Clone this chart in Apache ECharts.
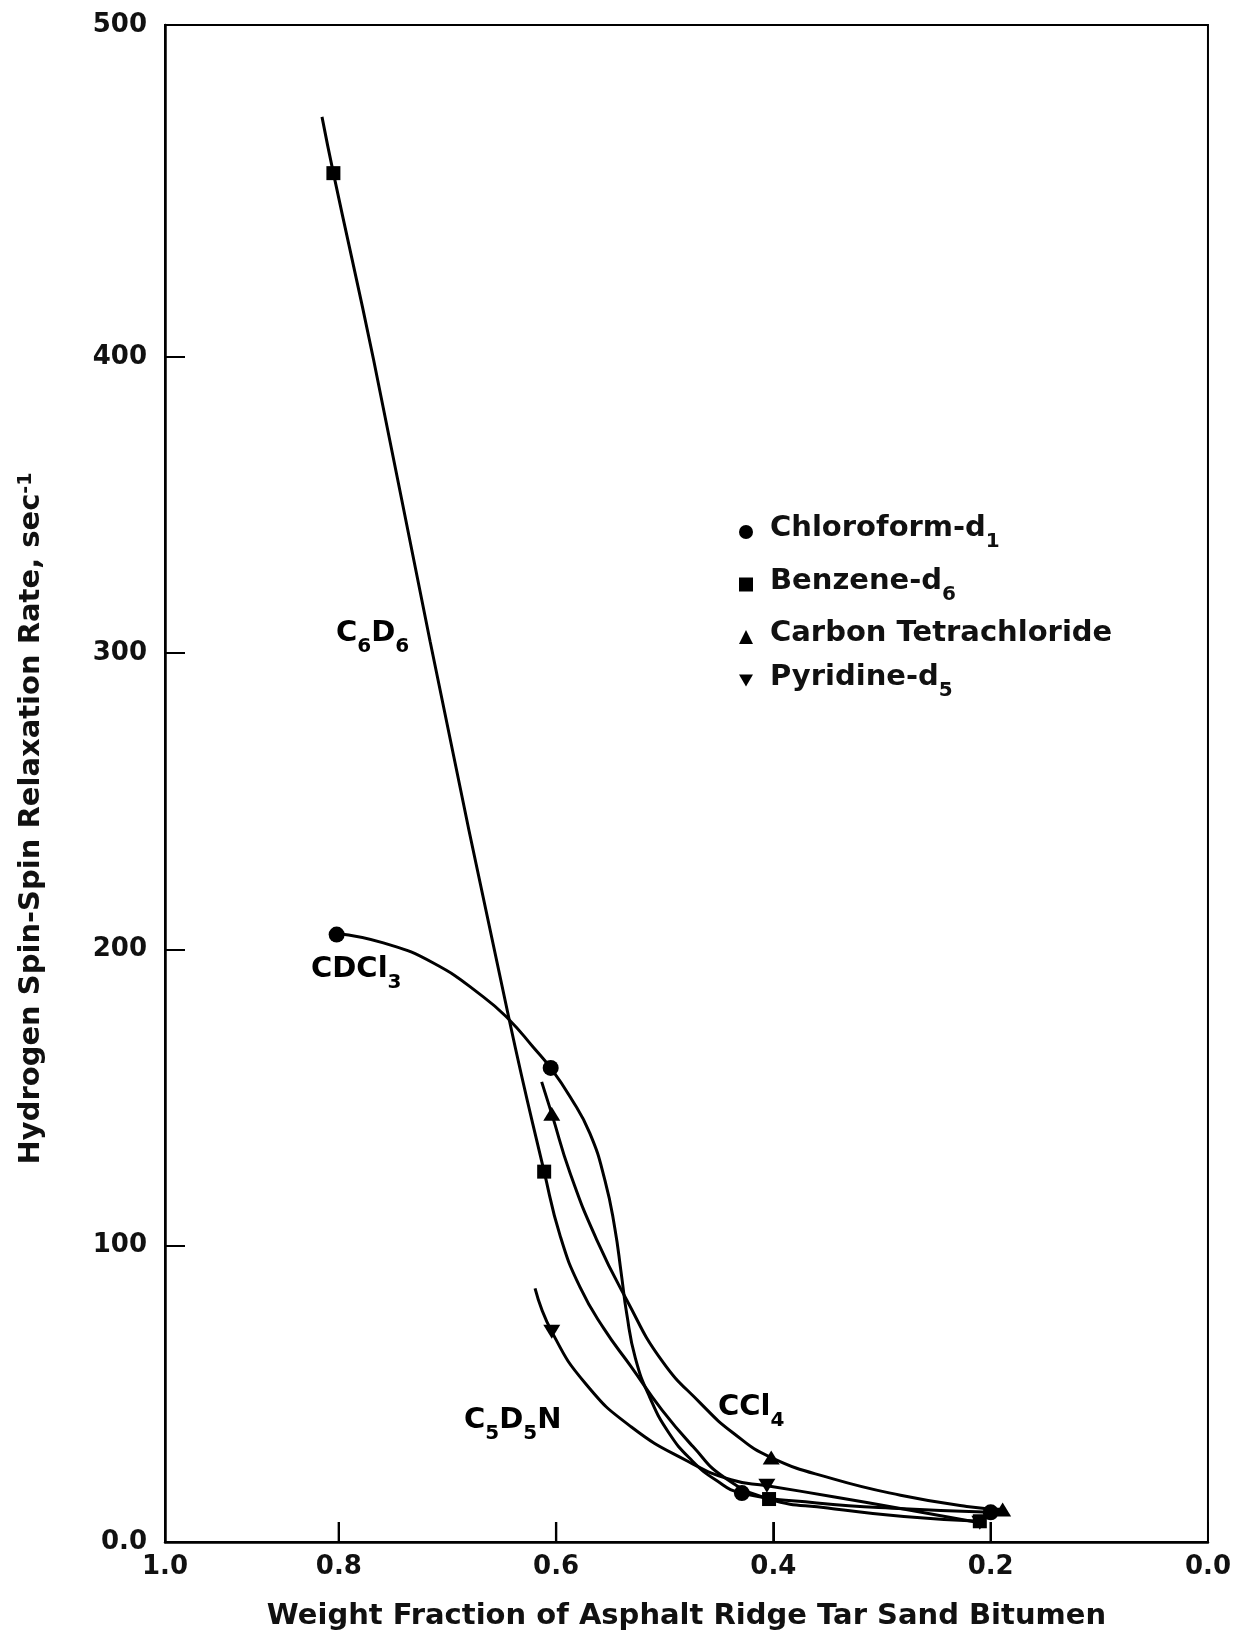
<!DOCTYPE html>
<html>
<head>
<meta charset="utf-8">
<script src="https://cdn.jsdelivr.net/npm/echarts@6/dist/echarts.min.js"></script>
<style>
html,body{margin:0;padding:0;background:#fff;}
#chart{width:1234px;height:1636px;}
</style>
</head>
<body>
<div id="chart"></div>
<script>
// ---------------- data ----------------
const SERIES_NAMES = ['Chloroform-d1', 'Benzene-d6', 'Carbon Tetrachloride', 'Pyridine-d5'];
const LEGEND_LABELS = ['{m|Chloroform-d}{s|1}', '{m|Benzene-d}{s|6}', '{m|Carbon Tetrachloride}', '{m|Pyridine-d}{s|5}'];

// measured points [weight fraction, relaxation rate]
const chloroformPoints = [[0.802, 205], [0.605, 160], [0.429, 16.5], [0.200, 10]];
const benzenePoints    = [[0.805, 462], [0.611, 125], [0.404, 14.5], [0.210, 7]];
const ccl4Points       = [[0.604, 144.5], [0.402, 28.5], [0.189, 11]];
const pyridinePoints   = [[0.604, 71], [0.406, 19], [0.210, 6.5]];

// hand-drawn curves
const chloroformCurve = [[0.802, 205.4], [0.759, 202.2], [0.713, 195.4], [0.667, 184], [0.643, 176.2], [0.621, 167],
  [0.605, 160], [0.587, 150.2], [0.569, 138], [0.555, 122], [0.546, 106], [0.540, 90.5], [0.535, 77],
  [0.527, 62], [0.514, 49], [0.496, 36.7], [0.475, 27.5], [0.453, 20.9], [0.429, 16.5], [0.36, 13.2],
  [0.28, 11.2], [0.200, 10]];
const benzeneCurve = [[0.8155, 481], [0.805, 462], [0.768, 399], [0.716, 304], [0.643, 176], [0.611, 125],
  [0.596, 103], [0.578, 86], [0.556, 72], [0.531, 59.2], [0.5025, 44.5], [0.474, 32.2], [0.446, 22], [0.404, 14.5],
  [0.35, 11.5], [0.28, 8.6], [0.210, 7]];
const ccl4Curve = [[0.6133, 155.3], [0.604, 144.5], [0.587, 124.4], [0.5626, 102], [0.535, 81.7], [0.503, 61.4],
  [0.467, 46.8], [0.437, 36.8], [0.402, 28.5], [0.345, 21.3], [0.283, 15.8], [0.222, 12], [0.189, 11]];
const pyridineCurve = [[0.6194, 85.6], [0.604, 71], [0.573, 53.5], [0.531, 38.9], [0.478, 27.1], [0.439, 21],
  [0.406, 19], [0.345, 15.3], [0.283, 11.3], [0.210, 6.5]];

// axis ticks / labels
const X_TICK_STEP = 0.2;
const X_TICKS = [0.2, 0.4, 0.6, 0.8];
const X_LEFT_EDGE = 0.96;           // left frame of the drawing (labelled "1.0")
const Y_TICKS = [100, 200, 300, 400];
const Y_TOP_EDGE = 512;             // top frame of the drawing (labelled "500")
const Y_LABEL_VALUES = [0, 100, 200, 300, 400, Y_TOP_EDGE];

const X_TITLE = 'Weight Fraction of Asphalt Ridge Tar Sand Bitumen';
const Y_TITLE = '{m|Hydrogen Spin-Spin Relaxation Rate, sec}{p|-1}';

// ---------------- chart ----------------
const FONT = 'DejaVu Sans';
const INK = '#111';
const TICK_LEN_PX = 20;
const rich = {
  m: {fontFamily: FONT, fontWeight: 'bold', fontSize: 29, lineHeight: 36, verticalAlign: 'top', color: INK},
  s: {fontFamily: FONT, fontWeight: 'bold', fontSize: 20, lineHeight: 18, padding: [18, 0, 0, 0], verticalAlign: 'top', color: INK},
  p: {fontFamily: FONT, fontWeight: 'bold', fontSize: 19, lineHeight: 18, verticalAlign: 'top', color: INK}
};

const chart = echarts.init(document.getElementById('chart'), null, {renderer: 'canvas'});

const curves = [chloroformCurve, benzeneCurve, ccl4Curve, pyridineCurve];
const points = [chloroformPoints, benzenePoints, ccl4Points, pyridinePoints];
const symbols = ['circle', 'rect', 'triangle', 'triangle'];
const symbolSizes = [16, 14, [17, 14], [17, 14]];
const symbolRotates = [0, 0, 0, 180];
const legendIcons = ['circle', 'rect', 'triangle', 'path://M0,0L10,0L5,8.66Z'];

const series = [];
curves.forEach((c, i) => {
  series.push({
    name: SERIES_NAMES[i] + ' curve',
    type: 'line',
    data: c,
    smooth: 0.5,
    showSymbol: false,
    lineStyle: {color: '#000', width: 3},
    z: 2,
    silent: true
  });
});
points.forEach((p, i) => {
  series.push({
    name: SERIES_NAMES[i],
    type: 'scatter',
    data: p,
    symbol: symbols[i],
    symbolSize: symbolSizes[i],
    symbolRotate: symbolRotates[i],
    itemStyle: {color: '#000', opacity: 1},
    z: 5
  });
});

const annotations = [
  {type: 'text', x: 336, y: 637, z: 50, style: {text: '{m|C}{s|6}{m|D}{s|6}', rich: rich, align: 'left', verticalAlign: 'middle'}},
  {type: 'text', x: 311, y: 973, z: 50, style: {text: '{m|CDCl}{s|3}', rich: rich, align: 'left', verticalAlign: 'middle'}},
  {type: 'text', x: 464, y: 1424, z: 50, style: {text: '{m|C}{s|5}{m|D}{s|5}{m|N}', rich: rich, align: 'left', verticalAlign: 'middle'}},
  {type: 'text', x: 718, y: 1411, z: 50, style: {text: '{m|CCl}{s|4}', rich: rich, align: 'left', verticalAlign: 'middle'}}
];

const option = {
  backgroundColor: '#fff',
  animation: false,
  grid: {left: 165, right: 26, top: 25, bottom: 94, show: true, borderColor: '#000', borderWidth: 2},
  legend: {
    orient: 'vertical',
    left: 734,
    top: 509,
    itemWidth: 14,
    itemHeight: 14,
    itemGap: 14.5,
    data: SERIES_NAMES.map((n, i) => ({name: n, icon: legendIcons[i]})),
    formatter: name => LEGEND_LABELS[SERIES_NAMES.indexOf(name)],
    textStyle: {rich: rich, padding: [0, 0, 0, 12]},
    itemStyle: {color: '#000', opacity: 1},
    selectedMode: false
  },
  xAxis: {
    type: 'value',
    inverse: true,
    min: 0,
    max: X_LEFT_EDGE,
    interval: X_TICK_STEP,
    name: X_TITLE,
    nameLocation: 'middle',
    nameGap: 60,
    nameTextStyle: {fontFamily: FONT, fontWeight: 'bold', fontSize: 29, color: INK},
    axisLine: {onZero: false, lineStyle: {color: '#000', width: 2.5}},
    axisTick: {show: true, inside: true, length: 20, lineStyle: {color: '#000', width: 2}},
    axisLabel: {
      showMinLabel: true,
      showMaxLabel: true,
      margin: 12,
      fontFamily: FONT, fontWeight: 'bold', fontSize: 26, color: INK,
      formatter: v => (v >= X_LEFT_EDGE - 1e-6 ? '1.0' : v.toFixed(1))
    },
    splitLine: {show: false}
  },
  yAxis: {
    type: 'value',
    position: 'left',
    min: 0,
    max: Y_TOP_EDGE,
    name: Y_TITLE,
    nameLocation: 'middle',
    nameRotate: 90,
    nameGap: 112,
    nameTextStyle: {rich: rich, padding: [0, 70, 0, 0]},
    axisLine: {show: true, onZero: false, lineStyle: {color: '#000', width: 2.5}},
    axisTick: {show: true, inside: true, length: 20, customValues: Y_TICKS, lineStyle: {color: '#000', width: 2}},
    axisLabel: {
      customValues: Y_LABEL_VALUES,
      margin: 18,
      fontFamily: FONT, fontWeight: 'bold', fontSize: 26, color: INK,
      formatter: v => (v === 0 ? '0.0' : (v >= Y_TOP_EDGE ? '500' : String(v)))
    },
    splitLine: {show: false}
  },
  graphic: annotations,
  series: series
};

chart.setOption(option);

// inward tick marks on the bottom frame, positioned through the x scale
try {
  const tickMarks = X_TICKS.map(v => {
    const p = chart.convertToPixel({xAxisIndex: 0, yAxisIndex: 0}, [v, 0]);
    return {
      type: 'rect',
      z: 100,
      silent: true,
      shape: {x: p[0] - 1.2, y: p[1] - TICK_LEN_PX, width: 2.4, height: TICK_LEN_PX},
      style: {fill: '#000'}
    };
  });
  chart.setOption({graphic: annotations.concat(tickMarks)}, {replaceMerge: ['graphic']});
} catch (e) {
  console.error(e);
}
</script>
</body>
</html>
